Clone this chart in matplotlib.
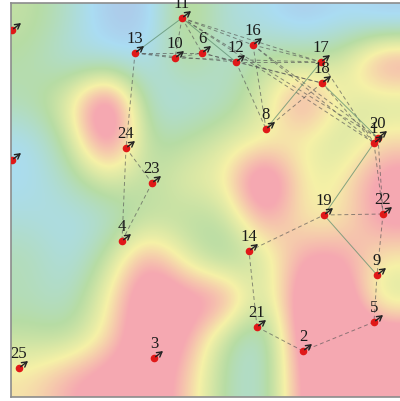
import numpy as np
import matplotlib
matplotlib.use("Agg")
import matplotlib.pyplot as plt
from matplotlib.colors import LinearSegmentedColormap

# node ids and their positions (x right, y down)
node_ids = [1, 2, 3, 4, 5, 6, 7, 8, 9, 10, 11, 12, 13,
            14, 15, 16, 17, 18, 19, 20, 21, 22, 23, 24, 25]
node_x = [374, 303, 154, 122, 374, 202, 12, 266, 377, 175, 182, 236, 135,
          249, 12, 253, 321, 322, 324, 378, 257, 383, 152, 126, 19]
node_y = [143, 351, 358, 241, 322, 53, 30, 129, 275, 58, 18, 62, 53,
          251, 160, 45, 62, 83, 215, 138, 327, 214, 183, 148, 368]
hidden_labels = [7, 15]  # labels fall outside the frame

dashed_edges = [(11, 10), (11, 6), (11, 16), (11, 17), (11, 20), (11, 1),
                (13, 10), (13, 6), (13, 12), (13, 24),
                (10, 6), (10, 17), (6, 12), (6, 18),
                (12, 17), (12, 18), (12, 8), (16, 17), (16, 8), (16, 20), (16, 1),
                (18, 8), (17, 1), (18, 1),
                (24, 23), (24, 4), (23, 4),
                (20, 22), (1, 22), (19, 22), (22, 9), (9, 5), (5, 2),
                (2, 21), (21, 14), (14, 19)]
solid_edges = [(11, 13), (11, 12), (17, 8), (18, 20), (1, 19), (19, 9)]

# background field, coarse samples (0 = purple ... 4+ = pink)
field = np.array([
    [2.2, 1.5, 0.6, 0.6, 2.5, 1.3, 1.1, 0.6, 1.0, 0.7],
    [1.9, 1.2, 1.2, 1.0, 2.2, 1.4, 2.2, 2.3, 2.4, 4.6],
    [1.8, 2.8, 5.6, 1.3, 1.2, 1.5, 2.6, 4.6, 2.8, 2.3],
    [1.0, 2.1, 5.2, 1.8, 2.0, 2.6, 2.8, 3.0, 2.2, 3.3],
    [1.0, 1.6, 2.6, 2.0, 2.8, 2.9, 5.6, 2.8, 3.0, 4.5],
    [1.3, 1.1, 1.3, 2.2, 2.0, 2.0, 4.2, 3.0, 3.0, 4.3],
    [1.8, 1.1, 2.2, 4.3, 2.6, 1.5, 2.4, 4.2, 4.2, 3.0],
    [1.7, 1.4, 3.0, 5.0, 4.5, 4.6, 2.0, 5.0, 5.0, 2.3],
    [2.2, 2.0, 3.2, 5.0, 4.2, 2.0, 1.0, 5.0, 5.0, 5.0],
    [3.2, 4.0, 4.5, 4.8, 3.6, 1.8, 1.2, 4.5, 5.0, 5.0],
])

pos = {n: (x, y) for n, x, y in zip(node_ids, node_x, node_y)}

cmap = LinearSegmentedColormap.from_list(
    "soft", ["#b1acd9", "#aadcf3", "#b7dca4", "#f6f1a7", "#f5a8b1"])

fig = plt.figure(figsize=(4, 4.01), dpi=100)
ax = fig.add_axes([11 / 400, 4 / 401, 389 / 400, 394 / 401])

ax.imshow(field, cmap=cmap, vmin=0, vmax=4, interpolation="bicubic",
          interpolation_stage="data",
          extent=(11, 400, 397, 3), aspect="auto", zorder=0)

for a, b in dashed_edges:
    ax.plot([pos[a][0], pos[b][0]], [pos[a][1], pos[b][1]], ls=(0, (4, 3)),
            color="#555555", lw=0.7, alpha=0.65, zorder=1)
for a, b in solid_edges:
    ax.plot([pos[a][0], pos[b][0]], [pos[a][1], pos[b][1]],
            color="#5f8f70", lw=0.7, alpha=0.75, zorder=1)

ax.scatter(node_x, node_y, s=20, color="#e01818", zorder=3)

for n, x, y in zip(node_ids, node_x, node_y):
    ax.annotate("", xy=(x, y), xytext=(6.5, 5), textcoords="offset points",
                arrowprops=dict(arrowstyle="<-,head_length=0.35,head_width=0.2",
                                color="#222222", lw=1.0, shrinkA=0, shrinkB=1.5),
                zorder=4)
    if n not in hidden_labels:
        ax.annotate(str(n), xy=(x, y), xytext=(0, 4.5), textcoords="offset points",
                    ha="center", va="bottom", fontsize=12,
                    family="Liberation Serif", color="#1a1a1a", zorder=5)

ax.set_xlim(11, 400)
ax.set_ylim(397, 3)
ax.set_xticks([])
ax.set_yticks([])
for side in ["left", "top", "bottom"]:
    ax.spines[side].set_color("#8c8c8c")
    ax.spines[side].set_linewidth(1.2)
ax.spines["right"].set_visible(False)

fig.savefig("out.png", dpi=100)
